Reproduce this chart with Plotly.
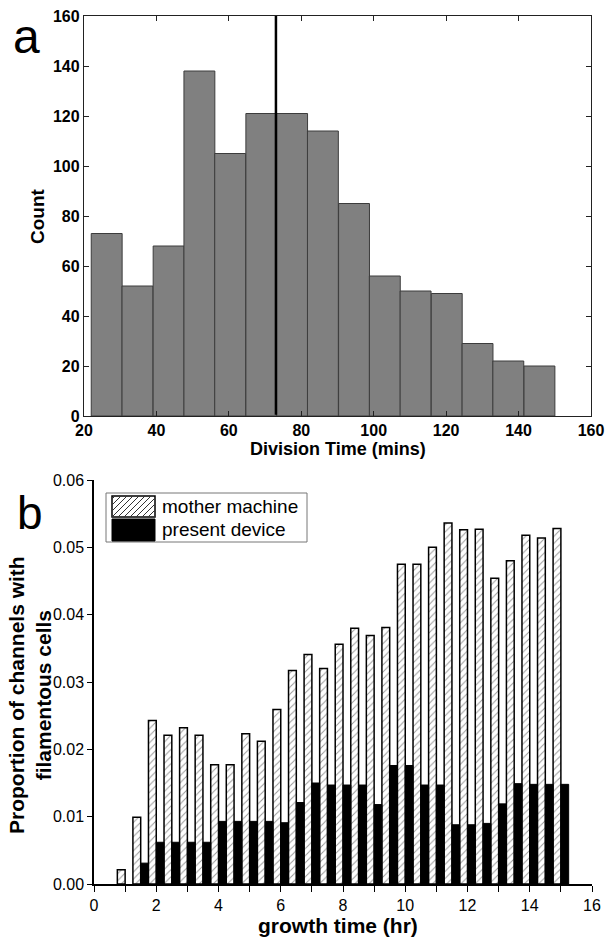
import plotly.graph_objects as go

# ---------------- Panel a: division-time histogram ----------------
bin_left = [22.0, 30.5, 39.1, 47.6, 56.1, 64.7, 73.2, 81.7, 90.3, 98.8, 107.3, 115.9, 124.4, 132.9, 141.5]
bin_width = 8.53
counts = [73, 52, 68, 138, 105, 121, 121, 114, 85, 56, 50, 49, 29, 22, 20]
mean_division_time = 73.0

# ---------------- Panel b: filamentous cells ----------------
growth_time = [1.0, 1.5, 2.0, 2.5, 3.0, 3.5, 4.0, 4.5, 5.0, 5.5, 6.0, 6.5, 7.0, 7.5, 8.0,
               8.5, 9.0, 9.5, 10.0, 10.5, 11.0, 11.5, 12.0, 12.5, 13.0, 13.5, 14.0, 14.5, 15.0]
mother_machine = [0.0021, 0.0099, 0.0243, 0.0221, 0.0232, 0.0221, 0.0177, 0.0177, 0.0223, 0.0212,
                  0.0259, 0.0317, 0.0341, 0.0320, 0.0356, 0.0380, 0.0369, 0.0381, 0.0475, 0.0475,
                  0.0500, 0.0536, 0.0526, 0.0527, 0.0454, 0.0480, 0.0518, 0.0514, 0.0528]
present_device = [None, 0.0031, 0.0062, 0.0062, 0.0062, 0.0062, 0.0093, 0.0093, 0.0093, 0.0093,
                  0.0091, 0.0121, 0.0150, 0.0147, 0.0147, 0.0147, 0.0118, 0.0176, 0.0176, 0.0147,
                  0.0147, 0.0088, 0.0088, 0.0090, 0.0119, 0.0149, 0.0148, 0.0148, 0.0148]
series_names = ["mother machine", "present device"]

FONT = "Liberation Sans, Arial, Helvetica, sans-serif"
W, H = 606, 940


def fx(px):
    return px / W


def fy(py):
    return 1 - py / H


fig = go.Figure()

fig.add_trace(go.Bar(
    x=bin_left, y=counts, width=bin_width, offset=0,
    marker=dict(color="#808080", line=dict(color="#3c3c3c", width=1)),
    xaxis="x", yaxis="y", showlegend=False,
))

fig.add_trace(go.Bar(
    x=growth_time, y=mother_machine, width=0.25, offset=-0.25, name=series_names[0],
    marker=dict(color="white", line=dict(color="black", width=1.5),
                pattern=dict(shape="/", fgcolor="#333333", bgcolor="white", size=5, solidity=0.2)),
    xaxis="x2", yaxis="y2", showlegend=False,
))
fig.add_trace(go.Bar(
    x=growth_time, y=present_device, width=0.25, offset=0, name=series_names[1],
    marker=dict(color="black", line=dict(color="black", width=1)),
    xaxis="x2", yaxis="y2", showlegend=False,
))

top_dx = [fx(84), fx(591)]
top_dy = [fy(416), fy(16)]
bot_dx = [fx(94), fx(592)]
bot_dy = [fy(884), fy(480)]

axis_common = dict(showgrid=False, zeroline=False, showline=True, linecolor="#222222", linewidth=1.3,
                   automargin=False, ticklabeloverflow="allow")
bot_common = dict(showgrid=False, zeroline=False, automargin=False)

fig.update_layout(
    width=W, height=H,
    margin=dict(l=0, r=0, t=0, b=0, autoexpand=False),
    paper_bgcolor="white", plot_bgcolor="white",
    font=dict(family=FONT, color="black"),
    barmode="overlay",
    showlegend=False,
    xaxis=dict(domain=top_dx, anchor="y", range=[20, 160], tickvals=[20, 40, 60, 80, 100, 120, 140, 160],
               ticks="inside", ticklen=5, tickcolor="#222222", mirror="ticks",
               tickfont=dict(size=16, weight="bold", family=FONT), **axis_common),
    yaxis=dict(domain=top_dy, anchor="x", range=[0, 160], tickvals=[0, 20, 40, 60, 80, 100, 120, 140, 160],
               ticks="inside", ticklen=5, tickcolor="#222222", mirror="ticks",
               tickfont=dict(size=16, weight="bold", family=FONT), **axis_common),
    xaxis2=dict(domain=bot_dx, anchor="y2", range=[0, 16], tickvals=[0, 2, 4, 6, 8, 10, 12, 14, 16],
                ticks="outside", ticklen=6, tickcolor="black", tickwidth=1.3,
                minor=dict(ticks="outside", ticklen=6, dtick=1, tickcolor="black", tickwidth=1.3),
                tickfont=dict(size=16, family=FONT), ticklabeloverflow="allow",
                showline=True, linecolor="black", linewidth=1.5, **bot_common),
    xaxis3=dict(overlaying="x2", side="top", anchor="y2", range=[0, 16], tickvals=[2, 4, 6, 8, 10, 12, 14],
                ticks="inside", ticklen=5, tickcolor="black", tickwidth=1.3, showticklabels=False,
                showline=True, linecolor="black", linewidth=1.5, **bot_common),
    yaxis2=dict(domain=bot_dy, anchor="x2", range=[0, 0.06],
                tickvals=[0, 0.01, 0.02, 0.03, 0.04, 0.05, 0.06],
                ticktext=["0.00", "0.01", "0.02", "0.03", "0.04", "0.05", "0.06"],
                ticks="outside", ticklen=5, tickcolor="black", tickwidth=1.3,
                tickfont=dict(size=16, family=FONT), ticklabeloverflow="allow",
                showline=True, linecolor="black", linewidth=1.5, **bot_common),
    yaxis3=dict(overlaying="y2", side="right", anchor="x2", range=[0, 0.06], dtick=0.005, tick0=0,
                ticks="inside", ticklen=5, tickcolor="black", tickwidth=1.3, showticklabels=False,
                showline=True, linecolor="black", linewidth=1.5, **bot_common),
    yaxis4=dict(overlaying="y2", side="left", anchor="x2", range=[0, 0.06], dtick=0.005, tick0=0,
                ticks="inside", ticklen=4, tickcolor="black", tickwidth=1.3, showticklabels=False,
                showline=False, **bot_common),
)

# mean division time line
fig.add_shape(type="line", xref="x", yref="y", x0=mean_division_time, x1=mean_division_time,
              y0=0.5, y1=160, line=dict(color="black", width=2.5))

annotations = [
    dict(text="a", x=fx(26), y=fy(37), font=dict(size=48, family=FONT)),
    dict(text="b", x=fx(30), y=fy(513), font=dict(size=46, family=FONT)),
    dict(text="Count", x=fx(37), y=fy(216), textangle=-90, font=dict(size=19, weight="bold", family=FONT)),
    dict(text="Division Time (mins)", x=fx(338), y=fy(449), font=dict(size=18, weight="bold", family=FONT)),
    dict(text="Proportion of channels with<br>filamentous cells", x=fx(30), y=fy(695), textangle=-90,
         font=dict(size=21, weight="bold", family=FONT)),
    dict(text="growth time (hr)", x=fx(338), y=fy(925), font=dict(size=21, weight="bold", family=FONT)),
    dict(text=series_names[0], x=fx(160), y=fy(506), xanchor="left", font=dict(size=19, family=FONT)),
    dict(text=series_names[1], x=fx(160), y=fy(529), xanchor="left", font=dict(size=19, family=FONT)),
]
for a in annotations:
    a.setdefault("xanchor", "center")
    fig.add_annotation(xref="paper", yref="paper", yanchor="middle", showarrow=False, **a)

# legend box and swatches
fig.add_shape(type="rect", xref="paper", yref="paper", x0=fx(106), x1=fx(307), y0=fy(542), y1=fy(493),
              line=dict(color="#777777", width=1), fillcolor="white")
sx0, sx1 = 112, 155
hy0, hy1 = 496, 517
fig.add_shape(type="rect", xref="paper", yref="paper", x0=fx(sx0), x1=fx(sx1), y0=fy(hy1), y1=fy(hy0),
              line=dict(color="black", width=1.5), fillcolor="white")
# hatch lines "/" inside the swatch
step = 6
c = sx0 + hy0 + 3
while c < sx1 + hy1:
    xa = max(sx0, c - hy1)
    xb = min(sx1, c - hy0)
    if xb > xa:
        fig.add_shape(type="line", xref="paper", yref="paper",
                      x0=fx(xa), y0=fy(c - xa), x1=fx(xb), y1=fy(c - xb),
                      line=dict(color="#333333", width=1))
    c += step
fig.add_shape(type="rect", xref="paper", yref="paper", x0=fx(sx0), x1=fx(sx1), y0=fy(541), y1=fy(519),
              line=dict(color="black", width=1), fillcolor="black")

# remove the default page margin so the 606x940 figure fills the window exactly
fig.write_html("out.html", config={"displayModeBar": False},
               post_script="document.body.style.margin='0';document.body.style.overflow='hidden';")
